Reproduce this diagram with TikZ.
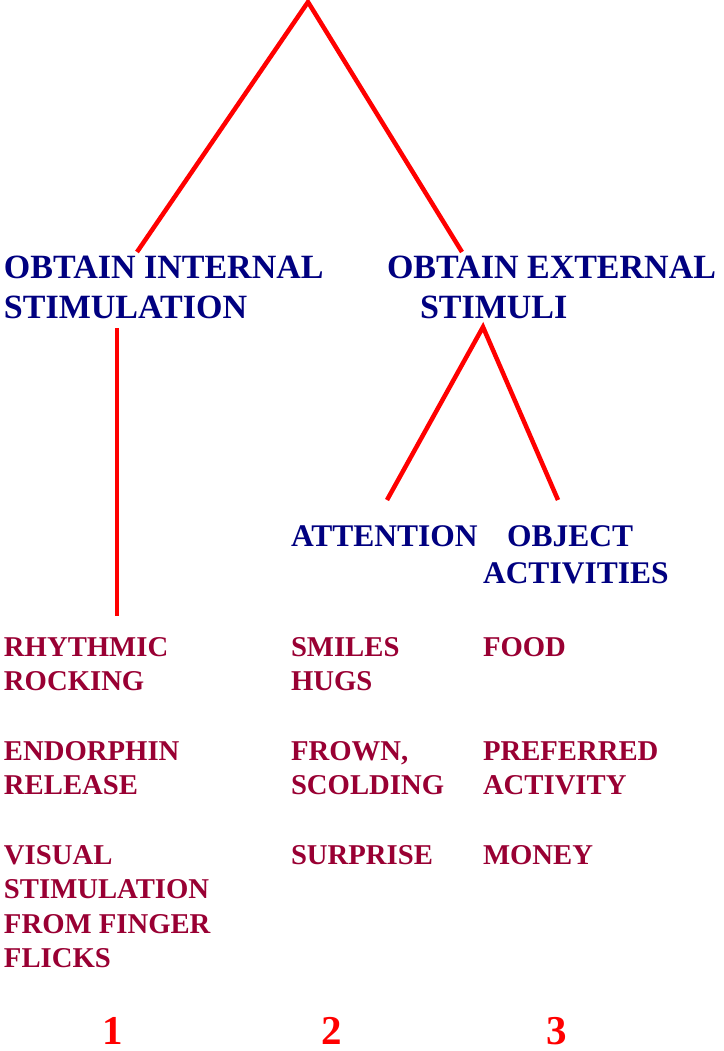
\documentclass[tikz,border=0pt]{standalone}
\usepackage{fontspec}
\setmainfont{Liberation Serif}
\definecolor{headblue}{RGB}{0,0,128}
\definecolor{itemred}{RGB}{153,0,51}
\definecolor{linered}{RGB}{255,0,0}
\begin{document}
\begin{tikzpicture}[x=1pt,y=-1pt,
  every node/.style={inner sep=0pt,outer sep=0pt},
  tophead/.style={anchor=base west,align=left,text=headblue,font=\bfseries\fontsize{34}{40}\selectfont},
  midhead/.style={anchor=base west,align=left,text=headblue,font=\bfseries\fontsize{31.5}{37}\selectfont},
  item/.style={anchor=base west,align=left,text=itemred,font=\bfseries\fontsize{28.7}{34.5}\selectfont},
  num/.style={anchor=base,text=linered,font=\bfseries\fontsize{41}{48}\selectfont},
  link/.style={draw=linered,line width=4.5pt}]
\useasboundingbox (0,0) rectangle (723,1051);
% headings (base anchor = baseline of the last line)
\node[tophead] (intl) at (4,318) {OBTAIN INTERNAL\\STIMULATION};
\node[tophead] (extl1) at (387,278) {OBTAIN EXTERNAL};
\node[tophead] (extl2) at (420,318) {STIMULI};
\node[midhead] (att) at (291,546) {ATTENTION};
\node[midhead] (obj1) at (507,546) {OBJECT};
\node[midhead] (obj2) at (483,583) {ACTIVITIES};
% items column 1
\node[item] (c1a) at (4,690.5) {RHYTHMIC\\ROCKING};
\node[item] (c1b) at (4,794.5) {ENDORPHIN\\RELEASE};
\node[item] (c1c) at (4,967.5) {VISUAL\\STIMULATION\\FROM FINGER\\FLICKS};
% column 2
\node[item] (c2a) at (291,690.5) {SMILES\\HUGS};
\node[item] (c2b) at (291,794.5) {FROWN,\\SCOLDING};
\node[item] (c2c) at (291,864) {SURPRISE};
% column 3
\node[item] (c3a) at (483,656) {FOOD};
\node[item] (c3b) at (483,794.5) {PREFERRED\\ACTIVITY};
\node[item] (c3c) at (483,864) {MONEY};
% numbers
\node[num] (n1) at (113,1044) {1};
\node[num] (n2) at (332,1044) {2};
\node[num] (n3) at (557,1044) {3};
% connector points
\coordinate (apex) at (308,2);
\coordinate (intTop) at (137,252);
\coordinate (extTop) at (462,252);
\coordinate (intBot) at (117,328);
\coordinate (c1Top) at (117,616);
\coordinate (extBot) at (483,327);
\coordinate (attTop) at (387,500);
\coordinate (objTop) at (558,500);
\draw[link] (intTop) -- (apex) -- (extTop);
\draw[link] (intBot) -- (c1Top);
\draw[link] (attTop) -- (extBot) -- (objTop);
\end{tikzpicture}
\end{document}
